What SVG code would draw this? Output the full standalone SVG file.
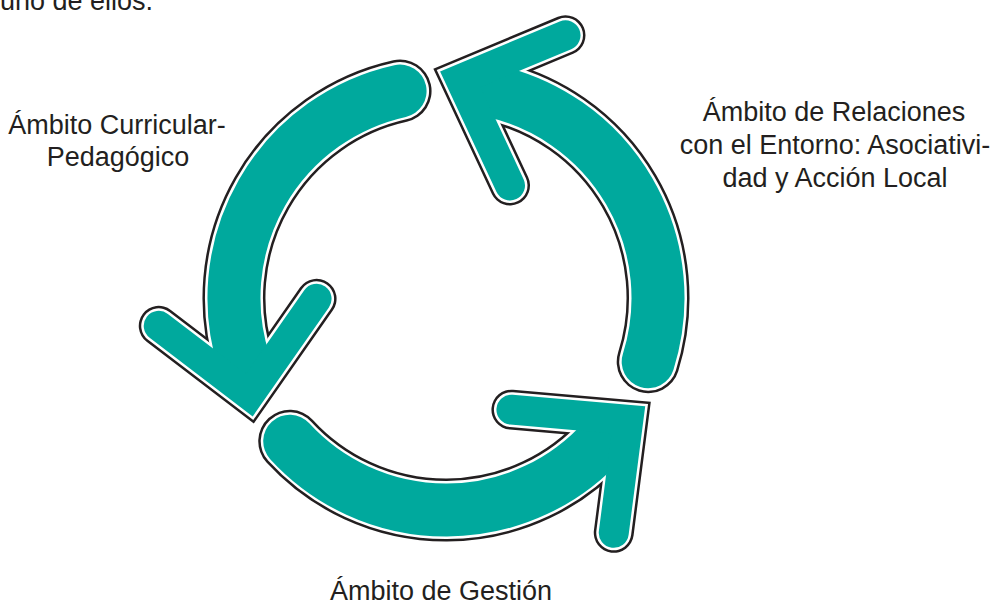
<svg xmlns="http://www.w3.org/2000/svg" xmlns:xlink="http://www.w3.org/1999/xlink" width="993" height="605" viewBox="0 0 993 605">
<style>
  .lbl { font-family: "Liberation Sans", Arial, sans-serif; font-size: 27px; fill: #231f20; text-anchor: middle; }
  .s, .h { fill: none; stroke-linecap: round; stroke-linejoin: miter; stroke-miterlimit: 4; }
  .bk { stroke: #231f20; }
  .wh { stroke: #ffffff; }
  .tl { stroke: #00a99d; }
  .s.bk { stroke-width: 63; } .s.wh { stroke-width: 58; } .s.tl { stroke-width: 53; }
  .h.bk { stroke-width: 40; } .h.wh { stroke-width: 35; } .h.tl { stroke-width: 30; }
</style>
<defs>
  <path id="shaft" d="M648.2,361.7 A212,212 0 0 0 490.1,90.6"/>
  <path id="head" d="M565.5,35.3 L460.3,79.2 L510,185.5"/>
  <g id="arrow">
    <use xlink:href="#shaft" class="s bk"/>
    <use xlink:href="#head" class="h bk"/>
    <use xlink:href="#shaft" class="s wh"/>
    <use xlink:href="#head" class="h wh"/>
    <use xlink:href="#shaft" class="s tl"/>
    <use xlink:href="#head" class="h tl"/>
  </g>
</defs>
<rect width="993" height="605" fill="#ffffff"/>
<text x="0" y="10" style="font-family:'Liberation Sans',Arial,sans-serif;font-size:27px;fill:#231f20">uno de ellos.</text>
<g id="connectors">
  <g id="arrow-right"><use xlink:href="#arrow"/></g>
  <g id="arrow-left" transform="rotate(-120 446 298)"><use xlink:href="#arrow"/></g>
  <g id="arrow-bottom" transform="rotate(120 446 298)"><use xlink:href="#arrow"/></g>
</g>
<g id="node-curricular">
  <text class="lbl" x="117" y="134">Ámbito Curricular-</text>
  <text class="lbl" x="118" y="166">Pedagógico</text>
</g>
<g id="node-relaciones">
  <text class="lbl" x="834" y="121">Ámbito de Relaciones</text>
  <text class="lbl" x="835" y="154">con el Entorno: Asociativi-</text>
  <text class="lbl" x="835" y="187">dad y Acción Local</text>
</g>
<g id="node-gestion">
  <text class="lbl" x="441" y="600">Ámbito de Gestión</text>
</g>
</svg>
